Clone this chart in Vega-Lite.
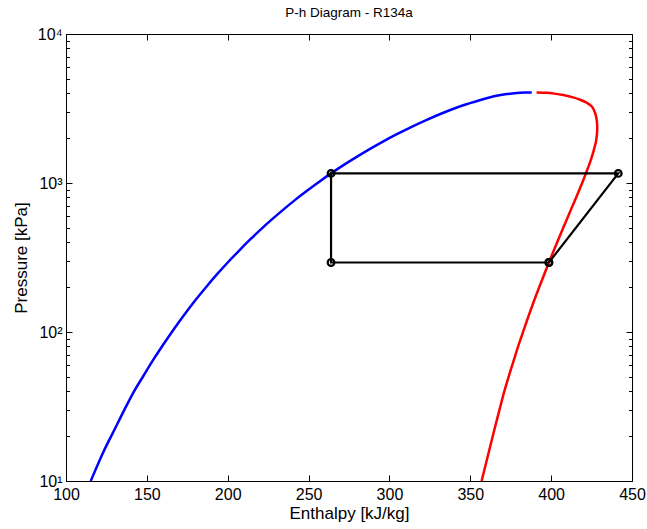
{
  "$schema": "https://vega.github.io/schema/vega-lite/v6.json",
  "autosize": "none",
  "width": 566,
  "height": 447,
  "padding": {"left": 66, "top": 34, "right": 15, "bottom": 48},
  "background": "white",
  "title": {"text": "P-h Diagram - R134a", "fontSize": 13.5, "fontWeight": "normal", "font": "Liberation Sans", "color": "black", "offset": 7, "frame": "group", "anchor": "middle"},
  "config": {
    "font": "Liberation Sans",
    "view": {"stroke": "black", "strokeWidth": 1},
    "axis": {"grid": false, "domain": false, "tickColor": "black", "labelColor": "black", "titleColor": "black", "labelFont": "Liberation Sans", "titleFont": "Liberation Sans", "labelFontSize": 16, "titleFontSize": 17, "titleFontWeight": "normal", "tickWidth": 1}
  },
  "datasets": {
    "liquid": [
      {"h": 115.3, "P": 10}, {"h": 123.4, "P": 15.9}, {"h": 129.8, "P": 21.9},
      {"h": 136.0, "P": 29.9}, {"h": 142.0, "P": 39.8}, {"h": 148.1, "P": 51.25}, {"h": 154.4, "P": 66.2},
      {"h": 160.8, "P": 84.4}, {"h": 167.2, "P": 106.5}, {"h": 173.6, "P": 132.7}, {"h": 180.1, "P": 164.0},
      {"h": 186.7, "P": 200.6}, {"h": 193.3, "P": 243.4}, {"h": 200.0, "P": 292.8}, {"h": 206.8, "P": 349.6},
      {"h": 213.6, "P": 414.6}, {"h": 220.5, "P": 488.6}, {"h": 227.5, "P": 571.7}, {"h": 234.6, "P": 665.4},
      {"h": 241.7, "P": 770.2}, {"h": 249.0, "P": 887.0}, {"h": 256.4, "P": 1016.6}, {"h": 263.9, "P": 1160.2},
      {"h": 271.6, "P": 1318.1}, {"h": 279.5, "P": 1491.5}, {"h": 287.5, "P": 1681.8}, {"h": 295.7, "P": 1889},
      {"h": 304.3, "P": 2116.8}, {"h": 313.1, "P": 2363.6}, {"h": 322.4, "P": 2633.2}, {"h": 332.2, "P": 2926.5},
      {"h": 342.6, "P": 3235}, {"h": 349.3, "P": 3420}, {"h": 355.8, "P": 3595}, {"h": 361.8, "P": 3745},
      {"h": 367.0, "P": 3860}, {"h": 372.5, "P": 3950}, {"h": 378.7, "P": 4015}, {"h": 384.0, "P": 4045},
      {"h": 388.0, "P": 4056}
    ],
    "vapor": [
      {"h": 357.0, "P": 10}, {"h": 361.6, "P": 15.9}, {"h": 364.8, "P": 21.9},
      {"h": 368.0, "P": 29.9}, {"h": 371.0, "P": 39.8}, {"h": 374.0, "P": 51.25}, {"h": 377.2, "P": 66.2},
      {"h": 380.3, "P": 84.4}, {"h": 383.5, "P": 106.5}, {"h": 386.55, "P": 132.7}, {"h": 389.6, "P": 164},
      {"h": 392.66, "P": 200.6}, {"h": 395.7, "P": 243.4}, {"h": 398.6, "P": 292.8}, {"h": 401.5, "P": 349.6},
      {"h": 404.32, "P": 414.6}, {"h": 407.1, "P": 488.6}, {"h": 409.75, "P": 571.7}, {"h": 412.3, "P": 665.4},
      {"h": 414.82, "P": 770.2}, {"h": 417.2, "P": 887}, {"h": 419.43, "P": 1016.6}, {"h": 421.5, "P": 1160.2},
      {"h": 423.44, "P": 1318.1}, {"h": 425.1, "P": 1491.5}, {"h": 426.5, "P": 1681.8}, {"h": 427.7, "P": 1889},
      {"h": 428.3, "P": 2116.8}, {"h": 428.5, "P": 2363.6}, {"h": 428.2, "P": 2633.2}, {"h": 427.3, "P": 2926.5},
      {"h": 425.3, "P": 3244.5}, {"h": 422.3, "P": 3440}, {"h": 418.0, "P": 3620}, {"h": 413.0, "P": 3770},
      {"h": 407.5, "P": 3895}, {"h": 402.0, "P": 3980}, {"h": 397.0, "P": 4030}, {"h": 391.0, "P": 4055}
    ],
    "cycle": [
      {"h": 398.6, "P": 292.8}, {"h": 441.5, "P": 1160}, {"h": 263.9, "P": 1160},
      {"h": 263.9, "P": 292.8}, {"h": 398.6, "P": 292.8}
    ]
  },
  "layer": [
    {
      "data": {"name": "liquid"},
      "mark": {"type": "line", "color": "#0000ff", "strokeWidth": 2.5, "clip": true, "interpolate": "catmull-rom"},
      "encoding": {
        "x": {"field": "h", "type": "quantitative", "scale": {"domain": [100, 450], "nice": false, "zero": false},
              "axis": {"orient": "bottom", "title": "Enthalpy [kJ/kg]", "values": [100, 150, 200, 250, 300, 350, 400, 450], "tickSize": -6, "labelPadding": 11, "titlePadding": 3, "labelFlush": false, "labelOverlap": false}},
        "y": {"field": "P", "type": "quantitative", "scale": {"type": "log", "domain": [10, 10000], "nice": false},
              "axis": {"orient": "left", "title": "Pressure [kPa]", "values": [10, 100, 1000, 10000], "tickSize": -6, "labelPadding": 10, "titlePadding": 7, "labelBaseline": "middle", "labelOverlap": false,
                       "labelExpr": "datum.value == 10 ? '10¹' : datum.value == 100 ? '10²' : datum.value == 1000 ? '10³' : '10⁴'"}},
        "order": {"value": null}
      }
    },
    {
      "data": {"name": "vapor"},
      "mark": {"type": "line", "color": "#ff0000", "strokeWidth": 2.5, "clip": true, "interpolate": "catmull-rom"},
      "encoding": {
        "x": {"field": "h", "type": "quantitative",
              "axis": {"orient": "top", "title": null, "labels": false, "values": [100, 150, 200, 250, 300, 350, 400, 450], "tickSize": -6}},
        "y": {"field": "P", "type": "quantitative",
              "axis": {"orient": "left", "title": null, "labels": false, "tickSize": -3.5,
                       "values": [20, 30, 40, 50, 60, 70, 80, 90, 200, 300, 400, 500, 600, 700, 800, 900, 2000, 3000, 4000, 5000, 6000, 7000, 8000, 9000]}},
        "order": {"value": null}
      }
    },
    {
      "data": {"name": "cycle"},
      "mark": {"type": "line", "color": "black", "strokeWidth": 2.2, "clip": true},
      "encoding": {
        "x": {"field": "h", "type": "quantitative", "axis": null},
        "y": {"field": "P", "type": "quantitative",
              "axis": {"orient": "right", "title": null, "labels": false, "values": [10, 100, 1000, 10000], "tickSize": -6}},
        "order": {"value": null}
      }
    },
    {
      "data": {"name": "cycle"},
      "mark": {"type": "point", "shape": "circle", "filled": false, "color": "black", "size": 45, "strokeWidth": 2.2, "opacity": 1},
      "encoding": {
        "x": {"field": "h", "type": "quantitative", "axis": null},
        "y": {"field": "P", "type": "quantitative",
              "axis": {"orient": "right", "title": null, "labels": false, "tickSize": -3.5,
                       "values": [20, 30, 40, 50, 60, 70, 80, 90, 200, 300, 400, 500, 600, 700, 800, 900, 2000, 3000, 4000, 5000, 6000, 7000, 8000, 9000]}}
      }
    }
  ],
  "resolve": {"axis": {"x": "independent", "y": "independent"}}
}
